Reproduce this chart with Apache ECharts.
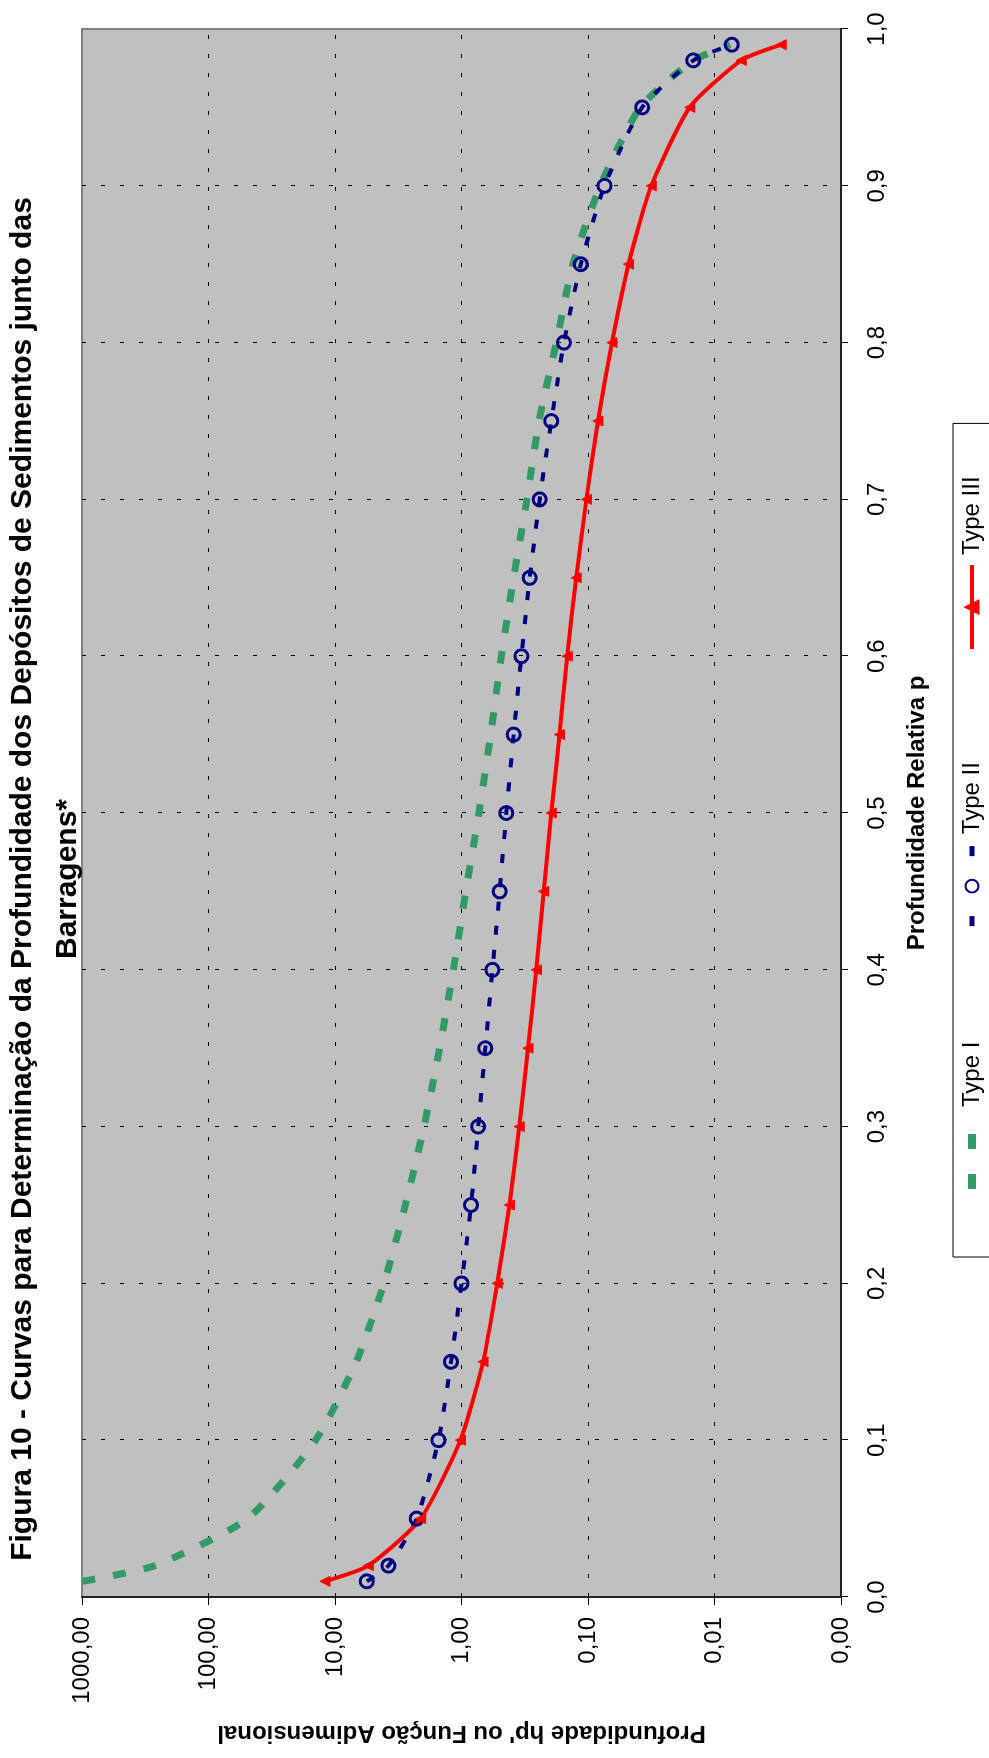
<!DOCTYPE html>
<html>
<head>
<meta charset="utf-8">
<title>Figura 10 - Curvas para Determinação da Profundidade dos Depósitos de Sedimentos</title>
<script src="https://cdn.jsdelivr.net/npm/echarts@6/dist/echarts.min.js"></script>
<style>
  html, body { margin: 0; padding: 0; background: #fff; overflow: hidden; }
  /* The chart is laid out landscape and turned a quarter turn to stand on the page */
  #chart {
    position: absolute; left: 0; top: 0;
    width: 1758px; height: 989px;
    transform-origin: 0 0;
    transform: translateY(1758px) rotate(-90deg);
  }
</style>
</head>
<body>
<div id="chart"></div>
<script>
// Relative depth p
const pValues = [0.01, 0.02, 0.05, 0.10, 0.15, 0.20, 0.25, 0.30, 0.35, 0.40, 0.45, 0.50,
                 0.55, 0.60, 0.65, 0.70, 0.75, 0.80, 0.85, 0.90, 0.95, 0.98, 0.99];
// Dimensionless depth function h'p for each reservoir type
const typeI   = [990, 265, 49, 14.2, 6.8, 4.1, 2.78, 1.98, 1.49, 1.16, 0.925, 0.728,
                 0.588, 0.484, 0.387, 0.304, 0.244, 0.178, 0.1315, 0.080, 0.0387, 0.0147, 0.0075];
const typeII  = [5.6, 3.78, 2.26, 1.52, 1.21, 1.00, 0.84, 0.738, 0.648, 0.570, 0.499, 0.442,
                 0.387, 0.336, 0.289, 0.241, 0.195, 0.155, 0.114, 0.0739, 0.0373, 0.0147, 0.0073];
const typeIII = [12.0, 5.45, 2.10, 1.02, 0.675, 0.522, 0.418, 0.350, 0.298, 0.256, 0.224, 0.195,
                 0.168, 0.146, 0.124, 0.103, 0.0835, 0.0647, 0.0478, 0.0316, 0.0157, 0.00615, 0.00297];
const seriesNames = ['Type I', 'Type II', 'Type III'];
const xTickLabels = ['0,0', '0,1', '0,2', '0,3', '0,4', '0,5', '0,6', '0,7', '0,8', '0,9', '1,0'];
const yTickLabels = ['0,00', '0,01', '0,10', '1,00', '10,00', '100,00', '1000,00'];

const FONT = "'Liberation Sans', Arial, sans-serif";
const toPairs = vals => pValues.map((p, i) => [p, vals[i]]);

const chart = echarts.init(document.getElementById('chart'), null, { renderer: 'canvas', width: 1758, height: 989 });

const gridDash = { color: '#000', width: 1, type: [4, 15] };

chart.setOption({
  animation: false,
  backgroundColor: '#fff',
  title: {
    text: 'Figura 10 - Curvas para Determinação da Profundidade dos Depósitos de Sedimentos junto das\nBarragens*',
    left: 'center',
    top: 0,
    padding: 0,
    textStyle: { fontFamily: FONT, fontSize: 30, fontWeight: 'bold', color: '#000', lineHeight: 45 }
  },
  grid: {
    left: 161, right: 29, top: 82, bottom: 148,
    show: true, backgroundColor: '#C0C0C0', borderColor: '#808080', borderWidth: 2,
    outerBoundsMode: 'none', containLabel: false
  },
  legend: {
    left: 501, top: 953,
    orient: 'horizontal',
    padding: [7, 53, 7, 52],
    itemWidth: 84, itemHeight: 16, itemGap: 111,
    backgroundColor: '#fff', borderColor: '#000', borderWidth: 1, borderRadius: 0,
    selectedMode: false,
    textStyle: { fontFamily: FONT, fontSize: 24, color: '#000', padding: [0, 0, 0, 5] },
    lineStyle: { width: 'inherit', type: 'inherit' },
    data: [
      { name: seriesNames[0], itemStyle: { opacity: 0 }, lineStyle: { type: [15, 25], dashOffset: 28, width: 8 } },
      { name: seriesNames[1], lineStyle: { type: [10, 60], dashOffset: 68, width: 5 } },
      { name: seriesNames[2] }
    ]
  },
  xAxis: {
    type: 'value', min: 0, max: 1, interval: 0.1,
    name: 'Profundidade Relativa p', nameLocation: 'middle', nameGap: 64,
    nameTextStyle: { fontFamily: FONT, fontSize: 24, fontWeight: 'bold', color: '#000' },
    axisLine: { show: true, onZero: false, lineStyle: { color: '#222', width: 2 } },
    axisTick: { show: true, inside: false, length: 7, lineStyle: { color: '#000', width: 1 } },
    axisLabel: {
      margin: 24, fontFamily: FONT, fontSize: 24, color: '#000',
      formatter: v => xTickLabels[Math.round(v * 10)]
    },
    splitLine: { show: true, showMinLine: false, showMaxLine: false, lineStyle: gridDash }
  },
  yAxis: {
    type: 'log', logBase: 10, min: 0.001, max: 1000,
    name: "Profundidade hp' ou Função Adimensional", nameLocation: 'middle', nameRotate: 90, nameGap: 124,
    nameTextStyle: { fontFamily: FONT, fontSize: 24, fontWeight: 'bold', color: '#000' },
    axisLine: { show: true, onZero: false, lineStyle: { color: '#222', width: 2 } },
    axisTick: { show: true, inside: false, length: 8, lineStyle: { color: '#000', width: 1 } },
    axisLabel: {
      margin: 20, fontFamily: FONT, fontSize: 24, color: '#000',
      formatter: v => yTickLabels[Math.round(Math.log10(v)) + 3]
    },
    splitLine: { show: true, showMinLine: false, showMaxLine: false, lineStyle: gridDash }
  },
  series: [
    {
      name: seriesNames[0], type: 'line', data: toPairs(typeI),
      smooth: 0.2,
      symbol: 'none',
      lineStyle: { color: '#339966', width: 7, type: [13, 18] },
      itemStyle: { color: '#339966' }
    },
    {
      name: seriesNames[1], type: 'line', data: toPairs(typeII),
      smooth: 0.2,
      symbol: 'circle', symbolSize: 13, showAllSymbol: true,
      lineStyle: { color: '#000080', width: 4, type: [9, 15] },
      itemStyle: { color: 'rgba(0,0,0,0)', borderColor: '#000080', borderWidth: 3 }
    },
    {
      name: seriesNames[2], type: 'line', data: toPairs(typeIII),
      smooth: 0.2,
      symbol: 'triangle', symbolSize: 10, showAllSymbol: true,
      lineStyle: { color: '#FF0000', width: 4, type: 'solid' },
      itemStyle: { color: '#FF0000', borderColor: '#FF0000', borderWidth: 1 }
    }
  ]
});
</script>
</body>
</html>
